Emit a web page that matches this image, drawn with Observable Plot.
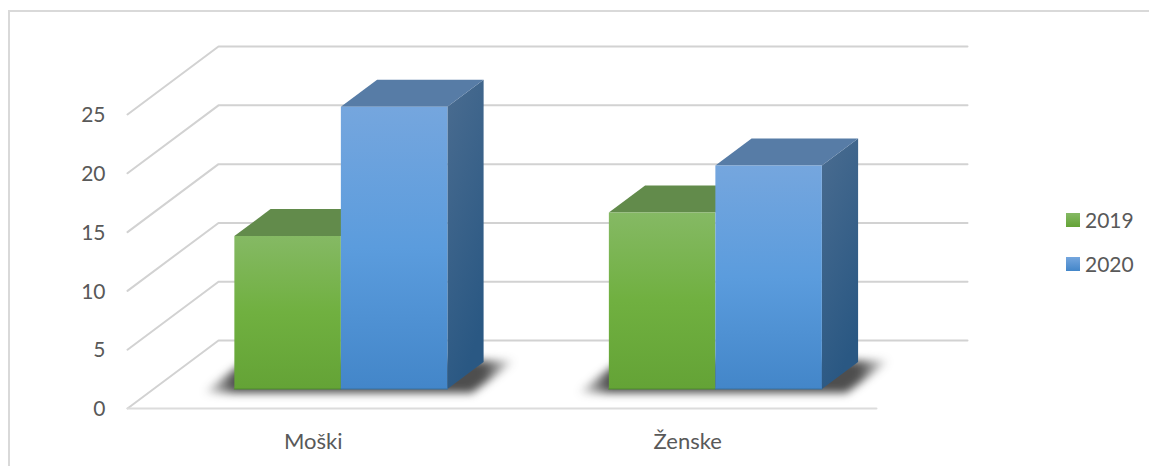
<!DOCTYPE html>
<html>
<head>
<meta charset="utf-8">
<script src="https://cdn.jsdelivr.net/npm/d3@7"></script>
<script src="https://cdn.jsdelivr.net/npm/@observablehq/plot@0.6"></script>
<style>
html,body{margin:0;padding:0;background:#fff;overflow:hidden}
#wrap{position:relative;width:1149px;height:466px;font-family:Lato,sans-serif;color:#595959}
#frame{position:absolute;left:8px;top:10px;width:1141px;height:456px;border-left:2px solid #d9d9d9;border-top:2px solid #d9d9d9;box-sizing:border-box}
#legend{position:absolute;left:1066px;top:198px;font-size:21px;line-height:44px}
#legend div{display:flex;align-items:center;height:44px}
#legend i{display:inline-block;width:14px;height:14px;margin-right:5px}
</style>
</head>
<body>
<div id="wrap">
<div id="frame"></div>
<div id="chart"></div>
<div id="legend"></div>
</div>
<script>
const categories = ["Moški", "Ženske"];
const years = ["2019", "2020"];
const values2019 = [13, 15];
const values2020 = [24, 19];
const yTicks = [0, 5, 10, 15, 20, 25];

const barWidth = 0.2844;         // in category units
const depthX = 0.243;            // shift of the wall in category units
const depthY = 5.78;             // rise of the wall in value units
const barNear = 0.287, barFar = 0.685; // bar depth within the floor

const P = (x, v, d) => ({x: x + d * depthX, y: v + d * depthY});
const colors = {
  "2019": {front: "url(#g19)", top: "#628b4b", edge: "#4f8a2e"},
  "2020": {front: "url(#g20)", top: "#577ca6", side: "url(#s20)", edge: "#39709f"}
};

const defs = () => {
  const svg = d3.create("svg:defs");
  const grad = (id, stops, dir = [0, 0, 0, 1]) => {
    const g = svg.append("linearGradient").attr("id", id)
      .attr("x1", dir[0]).attr("y1", dir[1]).attr("x2", dir[2]).attr("y2", dir[3]);
    for (const [o, c, a = 1] of stops)
      g.append("stop").attr("offset", o).attr("stop-color", c).attr("stop-opacity", a);
  };
  grad("g19", [[0, "#85b964"], [0.5, "#70b040"], [1, "#64a336"]]);
  grad("g20", [[0, "#75a6de"], [0.5, "#5b9cdd"], [1, "#4386c9"]]);
  grad("s20", [[0, "#4a6c90"], [1, "#2a5883"]], [0, 0, 0.35, 1]);
  grad("sh", [[0, "#222", 0], [0.1, "#222", 0.8], [0.9, "#222", 0.8], [1, "#222", 0]], [0, 0, 1, 0]);
  return svg.node();
};

const wallLines = yTicks.flatMap(v => [
  {id: v, ...P(0, v, 0)}, {id: v, ...P(0, v, 1)}, {id: v, ...P(2, v, 1)}
]);
const floorFront = [P(0, 0, 0), P(2, 0, 0)];

const polygon = (pts, fill, extra = {}) =>
  Plot.line(pts, {x: "x", y: "y", fill, stroke: "none", curve: "linear", ...extra});

const marks = [
  defs,
  Plot.line(wallLines, {x: "x", y: "y", z: "id", stroke: "#d2d2d2", strokeWidth: 2, curve: "linear"}),
  Plot.line(floorFront, {x: "x", y: "y", stroke: "#dcdcdc", strokeWidth: 2})
];

categories.forEach((c, i) => {
  const x0 = i + 0.5 - barWidth, x1 = i + 0.5 + barWidth;
  marks.push(polygon([
    P(x0 - 0.07, 0, barNear - 0.06), P(x0 - 0.07, 0, barFar + 0.02),
    P(x1 + 0.08, 0, barFar + 0.02), P(x1 + 0.08, 0, barNear - 0.06)
  ], "url(#sh)", {imageFilter: "blur(4px)"}));
  [[values2019[i], "2019", x0, i + 0.5], [values2020[i], "2020", i + 0.5, x1]].forEach(([v, yr, a, b]) => {
    const col = colors[yr];
    if (col.side) {
      marks.push(polygon([P(b, 0, barNear), P(b, 0, barFar), P(b, v, barFar), P(b, v, barNear)], col.side));
    }
    marks.push(polygon([P(a, v, barNear), P(a, v, barFar), P(b, v, barFar), P(b, v, barNear)], col.top));
    marks.push(polygon([P(a, 0, barNear), P(a, v, barNear), P(b, v, barNear), P(b, 0, barNear)], col.front));
    marks.push(Plot.line([P(a, 0, barNear), P(b, 0, barNear)], {x: "x", y: "y", stroke: col.edge, strokeWidth: 1.2}));
  });
});

marks.push(
  Plot.axisY({ticks: yTicks, tickSize: 0, tickPadding: 22, fontSize: 21, fontFamily: "Lato", color: "#595959", label: null, dy: 1}),
  Plot.axisX({ticks: [0.5, 1.5], tickFormat: d => categories[Math.floor(d)], tickSize: 0, tickPadding: 25, fontSize: 22, fontFamily: "Lato", color: "#595959", label: null, dx: -1.5})
);

const chart = Plot.plot({
  width: 1149, height: 466,
  marginLeft: 127, marginRight: 273, marginTop: 114, marginBottom: 58,
  style: {background: "transparent", overflow: "visible", display: "block", position: "relative"},
  x: {domain: [0, 2], axis: null},
  y: {domain: [0, 25], axis: null},
  marks
});
document.getElementById("chart").appendChild(chart);

const leg = document.getElementById("legend");
[["2019", "linear-gradient(#85b964,#64a336)"], ["2020", "linear-gradient(#75a6de,#4386c9)"]].forEach(([t, bg]) => {
  const d = document.createElement("div");
  const s = document.createElement("i");
  s.style.background = bg;
  d.appendChild(s);
  d.appendChild(document.createTextNode(t));
  leg.appendChild(d);
});
</script>
</body>
</html>
